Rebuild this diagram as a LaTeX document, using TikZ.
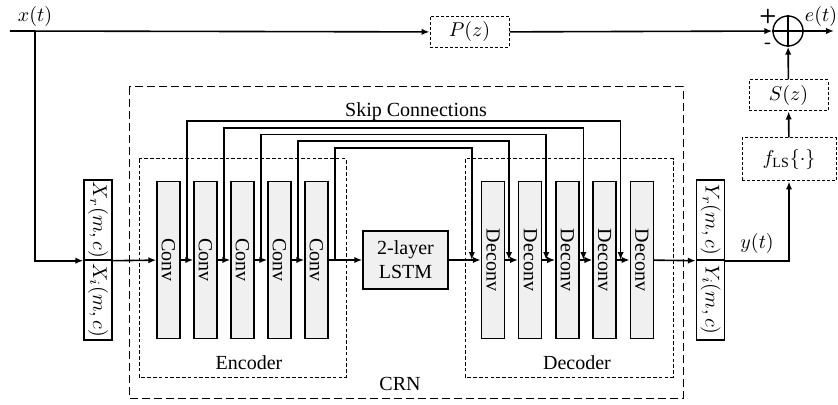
\documentclass[tikz,border=0pt]{standalone}
\usepackage{fontspec}
\setmainfont{Liberation Serif}
\usetikzlibrary{arrows.meta,positioning,calc}
\definecolor{layergray}{RGB}{240,240,240}
\tikzset{
    line/.style    = {-{Latex[length=4pt,width=3.2pt]}, line width=0.8pt},
    wire/.style    = {line width=0.8pt},
    layer/.style   = {draw, line width=0.7pt, fill=layergray,
            minimum width=11.5pt, minimum height=78.5pt, inner sep=0pt},
    spec/.style    = {draw, line width=0.7pt, fill=white,
            minimum width=14pt, minimum height=40pt, inner sep=0pt},
    lstmblock/.style = {draw, line width=0.7pt, fill=layergray,
            minimum width=42.5pt, minimum height=29pt, align=center, inner sep=0pt},
    filt/.style    = {draw, dash pattern=on 1.5pt off 1pt, line width=0.5pt,
            minimum width=39.5pt, minimum height=15.5pt, inner sep=0pt},
    crnbox/.style  = {draw, dash pattern=on 4pt off 2pt, line width=0.5pt},
    partbox/.style = {draw, dash pattern=on 1.8pt off 1.1pt, line width=0.5pt},
}

\begin{document}
\begin{tikzpicture}[x=0.5pt,y=-0.5pt]
    \useasboundingbox (0,0) rectangle (838,405);

    % Groups
    \draw[crnbox] (129,87) rectangle (683,398);
    \draw[partbox] (139,159) rectangle (346,377);
    \draw[partbox] (465,159) rectangle (673,377);
    \node (skiplab) at (416,112) {Skip Connections};
    \node (enclab) at (249,363) {Encoder};
    \node (declab) at (577,363) {Decoder};
    \node (crnlab) at (400,384) {CRN};

    % Nodes
    \node[spec] (Xr) at (98,220) {\rotatebox{-90}{$X_r(m,c)$}};
    \node[spec] (Xi) at (98,300) {\rotatebox{-90}{$X_i(m,c)$}};
    \foreach \i in {1,...,5} {
        \node[layer] (enc\i) at ({168.5+37*(\i-1)},260) {\rotatebox{-90}{Conv}};
        \node[layer] (dec\i) at ({493+37.2*(\i-1)},260) {\rotatebox{-90}{Deconv}};
    }
    \node[lstmblock] (lstm) at (405.5,260) {2-layer\\LSTM};
    \node[spec] (Yr) at (710.5,220) {\rotatebox{-90}{$Y_r(m,c)$}};
    \node[spec] (Yi) at (710.5,300) {\rotatebox{-90}{$Y_i(m,c)$}};
    \node[filt, minimum width=47pt, minimum height=21.5pt] (fls) at (789,159.5) {$f_{\mathrm{LS}}\{\cdot\}$};
    \node[filt] (sz) at (788.5,95.5) {$S(z)$};
    \node[filt] (pz) at (469.5,32) {$P(z)$};
    \node[circle, draw, line width=0.7pt, minimum size=15pt, inner sep=0pt] (sum) at (788,31) {};
    \draw[line width=0.6pt] (sum.north) -- (sum.south) (sum.west) -- (sum.east);
    \node (plus) at (768,17) {\sffamily\bfseries +};
    \node (minus) at (768,46) {\sffamily\bfseries -};

    \coordinate (xin) at (10,31);
    \coordinate (xbr) at (35,31);
    \coordinate (eout) at (834,31);
    \node (xlab) at (35,17) {$x(t)$};
    \node (elab) at (821,17) {$e(t)$};

    % Arrows
    \draw[line] (xin) -- (pz);
    \draw[line] (xbr) |- (Xr.south west);
    \draw[line] (Xr.south east) -- (enc1);
    \foreach \i [count=\j from 2] in {1,...,4} {
        \draw[line] (enc\i) -- (enc\j);
        \draw[line] (dec\i) -- (dec\j);
    }
    \draw[line] (enc5) -- (lstm);
    \draw[line] (lstm) -- (dec1);
    \draw[line] (dec5) -- (Yr.south west);

    % Skip connections
    \foreach \i in {1,...,5} {
        \pgfmathtruncatemacro\k{6-\i}
        \coordinate (sk\i) at ($(enc\i.east)+(6,0)$);
        \coordinate (sl\i) at ($(dec\k.west)+(-9,0)$);
        \coordinate (top\i) at (0,{121+6.75*(\i-1)});
        \draw[line] (sk\i) -- (sk\i |- top\i) -| (sl\i);
    }

    \draw[line] (Yr.south east) -| node[pos=0.25,above]{$y(t)$} (fls.south);
    \draw[line] (fls) -- (sz);
    \draw[line] (sz) -- (sum);
    \draw[line] (pz) -- (sum);
    \draw[line] (sum) -- (eout);
\end{tikzpicture}
\end{document}
